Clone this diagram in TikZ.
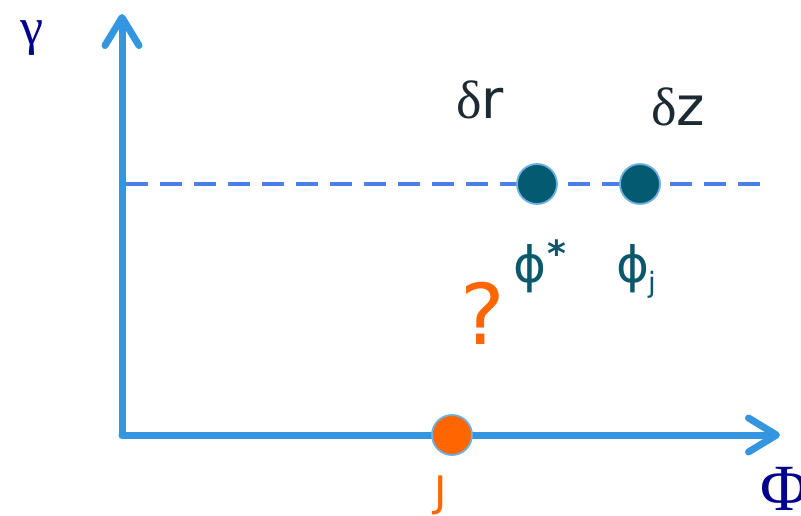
\documentclass[tikz,border=0pt]{standalone}
\usepackage{fontspec}
\setmainfont{Liberation Serif}
\newfontfamily\labfont{DejaVu Sans}
\usetikzlibrary{arrows.meta}
\definecolor{axisblue}{RGB}{52,150,224}
\definecolor{dashblue}{RGB}{74,128,232}
\definecolor{dotteal}{RGB}{4,90,112}
\definecolor{dotrim}{RGB}{110,176,226}
\definecolor{labteal}{RGB}{10,88,108}
\definecolor{darkslate}{RGB}{28,43,51}
\definecolor{orng}{RGB}{255,102,0}
\definecolor{navy}{RGB}{0,0,143}
\tikzset{
  axis/.style={draw=axisblue, line width=7pt, line cap=round,
    -{Straight Barb[round, length=28pt, width=34pt]}},
  dashline/.style={draw=dashblue, line width=4pt, dash pattern=on 22pt off 12pt},
  dotnode/.style={circle, minimum size=40pt, inner sep=0pt, draw=dotrim, line width=1.8pt},
  axlabel/.style={text=navy, inner sep=0pt},
}
\begin{document}
\begin{tikzpicture}[x=1pt, y=1pt]
\useasboundingbox (0,0) rectangle (801,-516);
% axes
\coordinate (O) at (122,-435);
\coordinate (ytip) at (122,-14);
\coordinate (xtip) at (780,-435);
\draw[axis] (O) -- (ytip);
\draw[axis] (O) -- (xtip);
% dashed level line
\coordinate (dl) at (126,-184);
\coordinate (dr) at (762,-184);
\draw[dashline] (dl) -- (dr);
% points
\node[dotnode, fill=dotteal] (pstar) at (537,-184) {};
\node[dotnode, fill=dotteal] (pj) at (640,-184) {};
\node[dotnode, fill=orng] (J) at (452,-435) {};
% axis labels
\node[axlabel, font=\fontsize{52}{52}\selectfont] (gamma) at (32,-38) {γ};
\node[axlabel, font=\fontsize{66}{66}\selectfont, anchor=west] (Phi) at (760,-489) {Φ};
% labels
\node[text=darkslate, font=\fontsize{54}{54}\selectfont, inner sep=0pt] (dr) at (480,-100) {δ{\labfont r}};
\node[text=darkslate, font=\fontsize{54}{54}\selectfont, inner sep=0pt] (dz) at (678,-107) {δ{\labfont z}};
\node[text=labteal, font=\labfont\fontsize{50}{50}\selectfont, inner sep=0pt, anchor=base west] (lstar) at (513,-282) {ϕ\kern1pt\raisebox{16pt}{\fontsize{36}{36}\selectfont\bfseries *}};
\node[text=labteal, font=\labfont\fontsize{50}{50}\selectfont, inner sep=0pt, anchor=base west] (lj) at (616,-282) {ϕ\kern-1pt\raisebox{-10pt}{\fontsize{28}{28}\selectfont j}};
\node[text=orng, font=\labfont\fontsize{84}{84}\selectfont, inner sep=0pt] (q) at (483,-313) {?};
\node[text=orng, font=\labfont\fontsize{42}{42}\selectfont, inner sep=0pt] (Jl) at (441,-495) {J};
\end{tikzpicture}
\end{document}
